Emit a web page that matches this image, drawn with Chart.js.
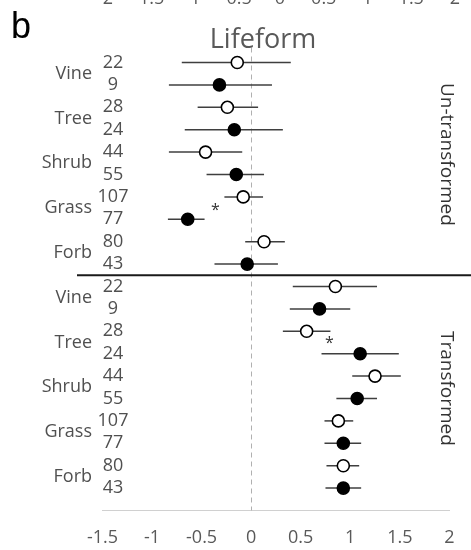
<!DOCTYPE html>
<html><head><meta charset="utf-8">
<script src="https://cdn.jsdelivr.net/npm/chart.js@4.4.1/dist/chart.umd.min.js"></script>
<style>html,body{margin:0;padding:0;background:#fff}#wrap{width:471px;height:550px;position:relative}</style>
</head><body><div id="wrap"><canvas id="c" width="471" height="550"></canvas></div>
<script>
// ---- data ----
const categories = ['Vine', 'Tree', 'Shrub', 'Grass', 'Forb'];
const nOpen = [22, 28, 44, 107, 80];
const nFilled = [9, 24, 55, 77, 43];

const unOpenMean = [-0.14, -0.24, -0.46, -0.08, 0.13];
const unOpenLow  = [-0.70, -0.54, -0.83, -0.27, -0.06];
const unOpenHigh = [0.40, 0.07, -0.09, 0.12, 0.34];

const unFilledMean = [-0.32, -0.17, -0.15, -0.64, -0.04];
const unFilledLow  = [-0.83, -0.67, -0.45, -0.84, -0.37];
const unFilledHigh = [0.21, 0.32, 0.13, -0.47, 0.27];

const trOpenMean = [0.85, 0.56, 1.25, 0.88, 0.93];
const trOpenLow  = [0.42, 0.32, 1.02, 0.74, 0.76];
const trOpenHigh = [1.27, 0.80, 1.51, 1.03, 1.09];

const trFilledMean = [0.69, 1.10, 1.07, 0.93, 0.93];
const trFilledLow  = [0.39, 0.71, 0.86, 0.74, 0.75];
const trFilledHigh = [1.00, 1.49, 1.27, 1.11, 1.11];

const xTicks = [-1.5, -1, -0.5, 0, 0.5, 1, 1.5, 2];
const topPanelTicks = ['-2', '-1.5', '-1', '-0.5', '0', '0.5', '1', '1.5', '2'];
const sections = ['Un-transformed', 'Transformed'];
const asteriskRows = [6.45, 12.4];
const asteriskX = [-0.36, 0.79];
const panelLetter = 'b';
const panelTitle = 'Lifeform';

// ---- build datasets ----
function pts(means, offset) {
  return means.map((m, i) => ({ x: m, y: offset + 2 * i }));
}
const series = [
  { mean: unOpenMean, low: unOpenLow, high: unOpenHigh, offset: 0, open: true },
  { mean: unFilledMean, low: unFilledLow, high: unFilledHigh, offset: 1, open: false },
  { mean: trOpenMean, low: trOpenLow, high: trOpenHigh, offset: 10, open: true },
  { mean: trFilledMean, low: trFilledLow, high: trFilledHigh, offset: 11, open: false }
];
const datasets = series.map(s => ({
  data: pts(s.mean, s.offset),
  pointRadius: 6,
  pointHoverRadius: 6,
  pointBackgroundColor: s.open ? '#ffffff' : '#000000',
  pointBorderColor: '#000000',
  pointBorderWidth: 1.6,
  showLine: false
}));

const FONT = '"Open Sans", "DejaVu Sans", sans-serif';
const GRAY = '#505050';

const decor = {
  id: 'decor',
  beforeDatasetsDraw(chart) {
    const { ctx, chartArea: a, scales: { x, y } } = chart;
    ctx.save();
    // dashed zero line
    ctx.strokeStyle = '#b0b0b0';
    ctx.lineWidth = 1;
    ctx.setLineDash([5, 4]);
    const x0 = Math.round(x.getPixelForValue(0)) + 0.5;
    ctx.beginPath(); ctx.moveTo(x0, a.top); ctx.lineTo(x0, a.bottom); ctx.stroke();
    ctx.setLineDash([]);
    // error bars
    ctx.strokeStyle = '#3f3f3f';
    ctx.lineWidth = 1.5;
    series.forEach(s => {
      s.mean.forEach((m, i) => {
        const py = y.getPixelForValue(s.offset + 2 * i);
        ctx.beginPath();
        ctx.moveTo(x.getPixelForValue(s.low[i]), py);
        ctx.lineTo(x.getPixelForValue(s.high[i]), py);
        ctx.stroke();
      });
    });
    // separator
    ctx.strokeStyle = '#1a1a1a';
    ctx.lineWidth = 2;
    const sy = y.getPixelForValue(9.5);
    ctx.beginPath(); ctx.moveTo(a.left - 25.5, sy); ctx.lineTo(chart.width, sy); ctx.stroke();
    ctx.restore();
  },
  afterDraw(chart) {
    const { ctx, chartArea: a, scales: { x, y } } = chart;
    ctx.save();
    // panel letter
    ctx.fillStyle = '#000';
    ctx.font = '36px "Liberation Sans", Arial, sans-serif';
    ctx.textAlign = 'left'; ctx.textBaseline = 'alphabetic';
    ctx.fillText(panelLetter, 11, 38);
    // title
    ctx.fillStyle = '#595959';
    ctx.font = '27px ' + FONT;
    ctx.textAlign = 'center';
    ctx.fillText(panelTitle, 263, 48);
    // cropped tick labels of the panel above
    ctx.font = '18px ' + FONT;
    topPanelTicks.forEach((t, i) => {
      ctx.fillText(t, 105 + i * 43.75, 4);
    });
    // left labels
    ctx.fillStyle = GRAY;
    ctx.font = '18px ' + FONT;
    ctx.textBaseline = 'middle';
    [0, 10].forEach(off => {
      categories.forEach((c, i) => {
        ctx.textAlign = 'right';
        ctx.fillText(c, a.left - 10.5, y.getPixelForValue(off + 2 * i + 0.5));
        ctx.textAlign = 'center';
        ctx.fillText(String(nOpen[i]), a.left + 10.5, y.getPixelForValue(off + 2 * i));
        ctx.fillText(String(nFilled[i]), a.left + 10.5, y.getPixelForValue(off + 2 * i + 1));
      });
    });
    // asterisks
    ctx.fillStyle = '#333';
    ctx.font = '16px ' + FONT;
    ctx.textAlign = 'center';
    asteriskRows.forEach((r, i) => {
      ctx.fillText('*', x.getPixelForValue(asteriskX[i]), y.getPixelForValue(r) + 3);
    });
    // section labels (rotated)
    ctx.fillStyle = '#333';
    ctx.font = '19px ' + FONT;
    const secRows = [4.1, 14.55];
    sections.forEach((s, i) => {
      ctx.save();
      ctx.translate(a.right - 3, y.getPixelForValue(secRows[i]));
      ctx.rotate(Math.PI / 2);
      ctx.textAlign = 'center'; ctx.textBaseline = 'middle';
      ctx.fillText(s, 0, 0);
      ctx.restore();
    });
    ctx.restore();
  }
};

new Chart(document.getElementById('c'), {
  type: 'scatter',
  data: { datasets },
  plugins: [decor],
  options: {
    responsive: false,
    animation: false,
    devicePixelRatio: 1,
    layout: { padding: { left: 102.5, right: 14, top: 47.5, bottom: 0 } },
    plugins: { legend: { display: false }, tooltip: { enabled: false }, title: { display: false } },
    scales: {
      x: {
        type: 'linear', min: -1.5, max: 2,
        afterBuildTicks(scale) { scale.ticks = xTicks.map(v => ({ value: v })); },
        afterFit(scale) { scale.height = 39.5; },
        grid: { display: true, color: 'rgba(0,0,0,0)', drawTicks: false },
        border: { display: true, color: '#d0d0d0', width: 1 },
        ticks: { color: '#595959', font: { family: FONT, size: 18 }, padding: 16.5, maxRotation: 0,
          callback: v => String(v) }
      },
      y: {
        type: 'linear', reverse: true, min: -0.67, max: 20.0, display: false
      }
    }
  }
});
</script>
</body></html>
